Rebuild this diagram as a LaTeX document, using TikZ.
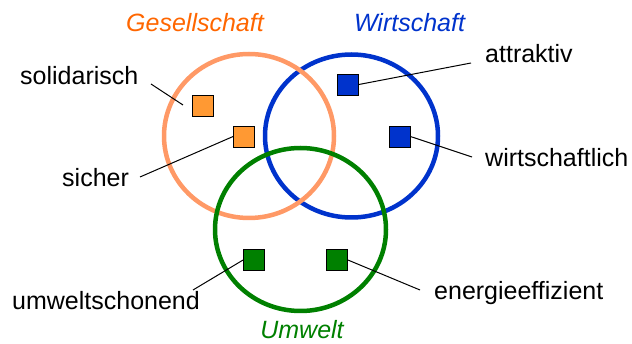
\documentclass[tikz,border=0pt]{standalone}
\usepackage{fontspec}
\setmainfont{Liberation Sans}
\definecolor{gesRing}{RGB}{255,153,102}
\definecolor{gesText}{RGB}{255,102,0}
\definecolor{gesBox}{RGB}{255,153,51}
\definecolor{wirt}{RGB}{0,51,204}
\definecolor{umw}{RGB}{0,128,0}
\begin{document}
\begin{tikzpicture}[x=1pt,y=-1pt,
  ring/.style={line width=4.5pt},
  item/.style={draw=black, line width=0.8pt, minimum size=21pt, inner sep=0pt},
  lbl/.style={font=\fontsize{25}{30}\selectfont, anchor=base west, inner sep=0pt},
  heading/.style={font=\fontsize{25}{30}\selectfont\itshape, anchor=base, inner sep=0pt},
  link/.style={line width=1pt}]
\useasboundingbox (0,0) rectangle (632,344);

% the three spheres
\draw[ring, wirt]    (351.5,136) ellipse [x radius=86.5pt, y radius=81.5pt];
\draw[ring, gesRing] (249,136)   ellipse [x radius=85pt,   y radius=82pt];
\draw[ring, umw]     (300.5,229.5) ellipse [x radius=85.5pt, y radius=81.5pt];

% headings
\node[heading, text=gesText] (hGes)  at (195,32)  {Gesellschaft};
\node[heading, text=wirt]    (hWirt) at (409.5,32) {Wirtschaft};
\node[heading, text=umw]     (hUmw)  at (302,338.5) {Umwelt};

% criteria boxes
\node[item, fill=gesBox] (bSol)  at (203,105.5) {};
\node[item, fill=gesBox] (bSich) at (244,136.5) {};
\node[item, fill=wirt]   (bAttr) at (348,84.5)  {};
\node[item, fill=wirt]   (bWirt) at (399.5,136.5) {};
\node[item, fill=umw]    (bUmw)  at (254,260)   {};
\node[item, fill=umw]    (bEner) at (337,260)   {};

% labels
\node[lbl] (tSol)  at (20,85)   {solidarisch};
\node[lbl] (tSich) at (62,187)  {sicher};
\node[lbl] (tAttr) at (485,63)  {attraktiv};
\node[lbl] (tWirt) at (485,167) {wirtschaftlich};
\node[lbl] (tUmw)  at (12,310)  {umweltschonend};
\node[lbl] (tEner) at (434,300) {energieeffizient};

% leader lines
\coordinate (cSolA) at (151,84);
\coordinate (cSolB) at (183,105);
\coordinate (cSich) at (140,177);
\coordinate (cAttr) at (471,63);
\coordinate (cWirt) at (472,157);
\coordinate (cUmw)  at (193,290);
\coordinate (cEner) at (420,290);

\draw[link] (cSolA) -- (cSolB);
\draw[link] (cSich) -- (bSich.west);
\draw[link] (bAttr.east) -- (cAttr);
\draw[link] (bWirt.east) -- (cWirt);
\draw[link] (cUmw) -- (bUmw.west);
\draw[link] (bEner.east) -- (cEner);
\end{tikzpicture}
\end{document}
